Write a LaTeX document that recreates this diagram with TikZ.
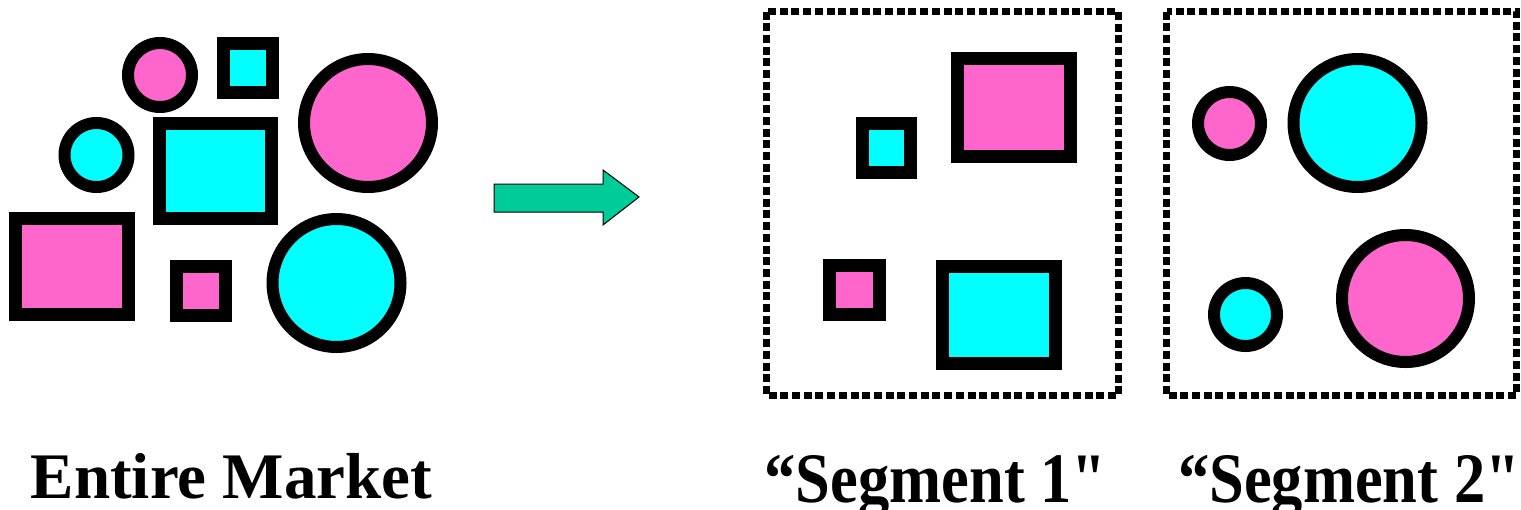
\documentclass[tikz,border=0pt]{standalone}
\usepackage{fontspec}
\setmainfont{Liberation Serif}
\newfontfamily\plainserif[Ligatures=TeXOff]{Liberation Serif}
\definecolor{mpink}{HTML}{FF66CC}
\definecolor{mcyan}{HTML}{00FFFF}
\definecolor{mgreen}{HTML}{00CC99}
\begin{document}
\begin{tikzpicture}[x=1pt,y=-1pt,
  ring/.style={draw=black,line width=12pt},
  sq/.style={draw=black,line width=13pt,line join=miter},
  segbox/.style={draw=black,line width=7pt,dash pattern=on 8pt off 3.7pt},
  lbl/.style={inner sep=0pt,anchor=base,font=\bfseries\fontsize{65}{70}\selectfont},
  seglbl/.style={inner sep=0pt,anchor=base,font=\plainserif\bfseries\fontsize{71}{76}\selectfont}]
\useasboundingbox[fill=white] (0,0) rectangle (1521,509);
% Entire market cluster
\draw[ring,fill=mpink] (160,75) circle[radius=32];
\draw[sq,fill=mcyan] (223,43) rectangle (272,92);
\draw[ring,fill=mpink] (368,123) circle[radius=64];
\draw[ring,fill=mcyan] (96.5,155) circle[radius=32];
\draw[sq,fill=mcyan] (159.5,123.5) rectangle (271.5,218.5);
\draw[sq,fill=mpink] (15.5,218.5) rectangle (128.5,314.5);
\draw[sq,fill=mpink] (176,266) rectangle (225,315);
\draw[ring,fill=mcyan] (336.5,283) circle[radius=64];
% arrow
\draw[fill=mgreen,draw=black,line width=1pt,line join=miter]
  (494,184) -- (603,184) -- (603,170) -- (639,197) -- (603,225) -- (603,212) -- (494,212) -- cycle;
% Segment 1
\draw[segbox] (766.5,11.5) rectangle (1118.5,395.5);
\draw[sq,fill=mpink] (957.5,58.5) rectangle (1070.5,156.5);
\draw[sq,fill=mcyan] (862.5,123) rectangle (910.5,172);
\draw[sq,fill=mpink] (829.5,265.5) rectangle (879.5,314.5);
\draw[sq,fill=mcyan] (942,266.5) rectangle (1055,363.5);
% Segment 2
\draw[segbox] (1166.5,11.5) rectangle (1516.5,395.5);
\draw[ring,fill=mpink] (1229.5,123.5) circle[radius=31.5];
\draw[ring,fill=mcyan] (1357.5,123) circle[radius=64];
\draw[ring,fill=mcyan] (1245.5,314.5) circle[radius=31.5];
\draw[ring,fill=mpink] (1405.5,298.5) circle[radius=63.5];
% labels
\node[lbl] (entire) at (231.5,498) {Entire Market};
\node[seglbl] (seg1) at (935.5,502) {\scalebox{0.88}[1]{“Segment 1"}};
\node[seglbl] (seg2) at (1349,502) {\scalebox{0.88}[1]{“Segment 2"}};
\end{tikzpicture}
\end{document}
